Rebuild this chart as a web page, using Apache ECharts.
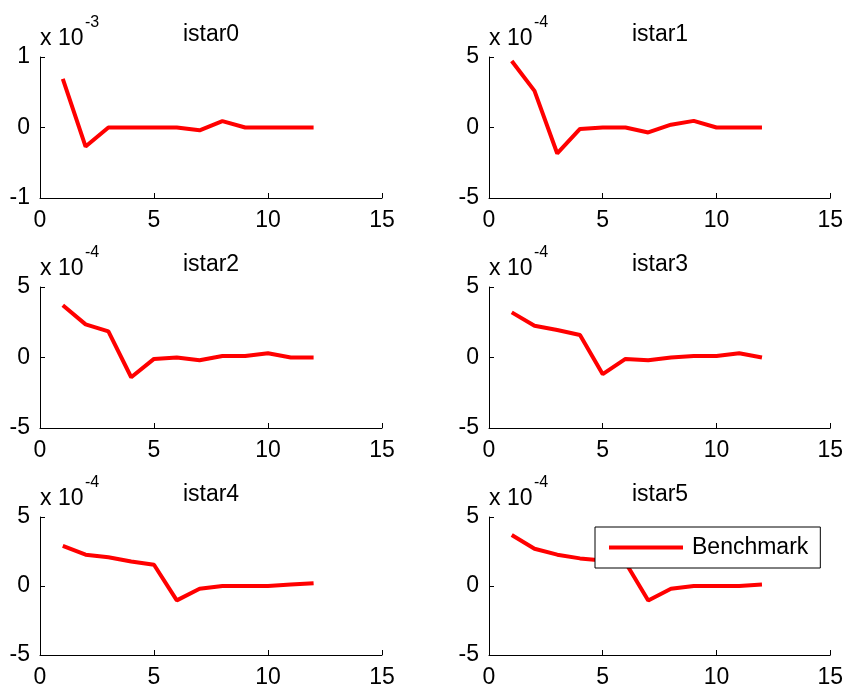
<!DOCTYPE html>
<html>
<head>
<meta charset="utf-8">
<title>istar responses</title>
<script src="https://cdn.jsdelivr.net/npm/echarts@6/dist/echarts.min.js"></script>
<style>
  html, body { margin: 0; padding: 0; background: #ffffff; }
  #chart { width: 846px; height: 689px; }
</style>
</head>
<body>
<div id="chart"></div>
<script>
// Horizon steps shared by every panel
const steps = [1, 2, 3, 4, 5, 6, 7, 8, 9, 10, 11, 12];

// Panel names and the power of ten each panel's values are expressed in
const panelTitles = ['istar0', 'istar1', 'istar2', 'istar3', 'istar4', 'istar5'];
const panelExponents = [-3, -4, -4, -4, -4, -4];
const panelLimits = [1, 5, 5, 5, 5, 5];

// Responses, in units of 10^exponent for their panel
const istar0 = [0.69, -0.27, 0, 0, 0, 0, -0.04, 0.09, 0, 0, 0, 0];
const istar1 = [4.72, 2.6, -1.84, -0.1, 0, 0, -0.35, 0.2, 0.47, 0, 0, 0];
const istar2 = [3.7, 2.35, 1.85, -1.4, -0.1, 0, -0.2, 0.1, 0.1, 0.3, 0, 0];
const istar3 = [3.2, 2.25, 1.95, 1.6, -1.18, -0.1, -0.2, 0, 0.1, 0.1, 0.3, 0];
const istar4 = [2.9, 2.27, 2.08, 1.78, 1.54, -1.04, -0.2, 0, 0, 0, 0.1, 0.2];
const istar5 = [3.7, 2.7, 2.27, 2.0, 1.85, 1.7, -1.05, -0.2, 0, 0, 0, 0.1];
const panelValues = [istar0, istar1, istar2, istar3, istar4, istar5];

const xTickMax = 15;
const xTickStep = 5;
const seriesName = 'Benchmark';

// Subplot layout
const colLeft = [40, 489];
const rowTop = [57, 287, 517];
const plotW = 342;
const plotH = 141;
const FONT = '"Liberation Sans", Arial, Helvetica, sans-serif';
const FS = 23;

const grids = [], xAxes = [], yAxes = [], series = [], graphics = [];

panelValues.forEach(function (vals, i) {
  const col = i % 2, row = Math.floor(i / 2);
  const left = colLeft[col], top = rowTop[row];
  grids.push({ left: left, top: top, width: plotW, height: plotH, containLabel: false });

  xAxes.push({
    type: 'value', gridIndex: i, min: 0, max: xTickMax, interval: xTickStep,
    axisLine: { show: true, onZero: false, lineStyle: { color: '#000', width: 1 } },
    axisTick: { show: true, inside: true, length: 5, lineStyle: { color: '#000' } },
    axisLabel: { color: '#000', fontSize: FS, fontFamily: FONT, margin: 11 },
    splitLine: { show: false }
  });

  const lim = panelLimits[i];
  yAxes.push({
    type: 'value', gridIndex: i, min: -lim, max: lim, interval: lim,
    axisLine: { show: true, onZero: false, lineStyle: { color: '#000', width: 1 } },
    axisTick: { show: true, inside: true, length: 5, lineStyle: { color: '#000' } },
    axisLabel: { color: '#000', fontSize: FS, fontFamily: FONT, margin: 10 },
    splitLine: { show: false }
  });

  series.push({
    name: seriesName, type: 'line', xAxisIndex: i, yAxisIndex: i,
    data: steps.map(function (s, k) { return [s, vals[k]]; }),
    symbol: 'none', showSymbol: false, smooth: false,
    lineStyle: { color: '#ff0000', width: 4 },
    itemStyle: { color: '#ff0000' },
    z: 2
  });

  // Panel title
  graphics.push({
    type: 'text', x: left + plotW / 2, y: top - 34,
    style: { text: panelTitles[i], fill: '#000', font: FS + 'px ' + FONT, textAlign: 'center', textVerticalAlign: 'top' }
  });
  // Axis scale factor "x 10^n"
  graphics.push({
    type: 'text', x: left, y: top - 7,
    style: { text: 'x 10', fill: '#000', font: FS + 'px ' + FONT, textAlign: 'left', textVerticalAlign: 'bottom' }
  });
  graphics.push({
    type: 'text', x: left + 45, y: top - 42,
    style: { text: String(panelExponents[i]), fill: '#000', font: '16px ' + FONT, textAlign: 'left', textVerticalAlign: 'top' }
  });
});

const chart = echarts.init(document.getElementById('chart'), null, { renderer: 'canvas' });
chart.setOption({
  backgroundColor: '#ffffff',
  animation: false,
  grid: grids,
  xAxis: xAxes,
  yAxis: yAxes,
  series: series,
  legend: {
    show: true,
    data: [{ name: seriesName, icon: 'rect' }],
    left: 595,
    top: 527,
    orient: 'horizontal',
    selectedMode: false,
    backgroundColor: '#ffffff',
    borderColor: '#000',
    borderWidth: 1,
    borderRadius: 0,
    padding: [9, 12, 9, 14],
    itemWidth: 74,
    itemHeight: 4,
    itemStyle: { color: '#ff0000', borderWidth: 0 },
    textStyle: { color: '#000', fontSize: FS, fontFamily: FONT, padding: [0, 0, 0, 4] },
    z: 10
  },
  graphic: graphics
});
</script>
</body>
</html>
